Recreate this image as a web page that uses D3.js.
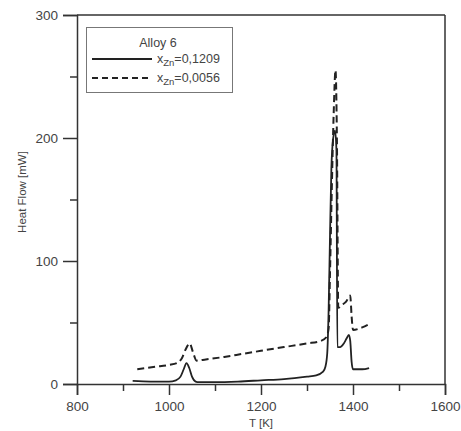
<!DOCTYPE html>
<html>
<head>
    <meta charset="UTF-8">
    <script src="https://d3js.org/d3.v7.min.js"></script>
    <style type="text/css">
        body { margin: 0; background: #fff; }
        text { font-family: "Liberation Sans", Arial, sans-serif; fill: #444; }
    </style>
</head>
<body>
    <script type="text/javascript">
        // Data (T in K, heat flow in mW)
        var tempHigh = [921, 960, 1000, 1015, 1025, 1032, 1038, 1044, 1050, 1058, 1065, 1100, 1150, 1200, 1250, 1300, 1320, 1335, 1340, 1344, 1347, 1350, 1353, 1357, 1361, 1364, 1366, 1372, 1380, 1386, 1391, 1394, 1397, 1400, 1420, 1435];
        var flowHigh = [2.5, 2, 2, 3, 6, 12, 17, 13, 6, 2, 1.5, 1.5, 2, 3, 4, 6, 7, 10, 14, 25, 60, 120, 175, 200, 206, 190, 30, 30, 33, 37, 40, 35, 18, 12, 12, 13];

        var tempLow = [931, 970, 1000, 1017, 1028, 1036, 1045, 1052, 1060, 1080, 1120, 1160, 1200, 1250, 1300, 1330, 1342, 1347, 1350, 1354, 1358, 1362, 1365, 1368, 1375, 1385, 1394, 1397, 1400, 1420, 1437];
        var flowLow = [12, 14, 15.5, 17, 21, 28, 33, 26, 19, 20, 22, 24.5, 27, 30, 33, 35, 38, 45, 90, 160, 220, 255, 200, 62, 64, 67, 72, 55, 44, 46, 49];

        var xTicks = [800, 1000, 1200, 1400, 1600];
        var xMinor = [900, 1100, 1300, 1500];
        var yTicks = [0, 100, 200, 300];
        var yMinor = [50, 150, 250];

        var legendTitle = "Alloy 6";
        var legendValues = ["0,1209", "0,0056"];

        var width = 461, height = 431;
        var svg = d3.select("body").append("svg")
            .attr("width", width)
            .attr("height", height);

        var x = d3.scaleLinear().domain([800, 1600]).range([77, 445]);
        var y = d3.scaleLinear().domain([0, 300]).range([384, 15]);

        var axisColor = "#333";

        // Frame: top and right lines without ticks
        svg.append("line").attr("x1", 77).attr("x2", 445).attr("y1", y(300)).attr("y2", y(300))
            .attr("stroke", axisColor).attr("stroke-width", 1.5);
        svg.append("line").attr("x1", 445).attr("x2", 445).attr("y1", y(300)).attr("y2", y(0))
            .attr("stroke", axisColor).attr("stroke-width", 1.5);

        // Bottom axis
        svg.append("g").attr("transform", "translate(0," + y(0) + ")")
            .call(d3.axisBottom(x).tickValues(xTicks).tickSize(11).tickPadding(6).tickFormat(d3.format("d")));
        svg.append("g").attr("transform", "translate(0," + y(0) + ")")
            .call(d3.axisBottom(x).tickValues(xMinor).tickSize(7).tickFormat(""))
            .select(".domain").remove();

        // Left axis
        svg.append("g").attr("transform", "translate(" + x(800) + ",0)")
            .call(d3.axisLeft(y).tickValues(yTicks).tickSize(14).tickPadding(5).tickFormat(d3.format("d")));
        svg.append("g").attr("transform", "translate(" + x(800) + ",0)")
            .call(d3.axisLeft(y).tickValues(yMinor).tickSize(7).tickFormat(""))
            .select(".domain").remove();

        svg.selectAll(".domain, .tick line")
            .attr("stroke", axisColor).attr("stroke-width", 1.5);
        svg.selectAll(".tick text")
            .style("font-size", "13.5px").attr("fill", "#444");

        // Axis titles
        svg.append("text")
            .attr("x", x(1200)).attr("y", 427)
            .attr("text-anchor", "middle")
            .style("font-size", "11.5px")
            .text("T [K]");

        svg.append("text")
            .attr("transform", "translate(26,192) rotate(-90)")
            .attr("text-anchor", "middle")
            .style("font-size", "11.5px")
            .text("Heat Flow [mW]");

        // Curves
        function makeLine(ts, vs) {
            return d3.line()
                .x(function (d, i) { return x(ts[i]); })
                .y(function (d, i) { return y(vs[i]); })
                .curve(d3.curveMonotoneX)(ts);
        }

        svg.append("path")
            .attr("d", makeLine(tempHigh, flowHigh))
            .attr("fill", "none")
            .attr("stroke", "#222")
            .attr("stroke-width", 1.8);

        svg.append("path")
            .attr("d", makeLine(tempLow, flowLow))
            .attr("fill", "none")
            .attr("stroke", "#222")
            .attr("stroke-width", 2)
            .attr("stroke-dasharray", "7,4");

        // Legend
        var lg = svg.append("g");
        lg.append("rect")
            .attr("x", 86.5).attr("y", 27.5).attr("width", 146).attr("height", 65)
            .attr("fill", "#fff").attr("stroke", "#777").attr("stroke-width", 1);
        lg.append("text")
            .attr("x", 158).attr("y", 47)
            .attr("text-anchor", "middle")
            .style("font-size", "12.5px")
            .text(legendTitle);

        var rows = [{ dash: null, y: 59 }, { dash: "6,4", y: 78 }];
        rows.forEach(function (r, i) {
            lg.append("line")
                .attr("x1", 92).attr("x2", 152).attr("y1", r.y).attr("y2", r.y)
                .attr("stroke", "#222").attr("stroke-width", 1.8)
                .attr("stroke-dasharray", r.dash);
            var t = lg.append("text")
                .attr("x", 157).attr("y", r.y + 4)
                .style("font-size", "12.5px");
            t.append("tspan").text("x");
            t.append("tspan").attr("dy", 3).style("font-size", "9.5px").text("Zn");
            t.append("tspan").attr("dy", -3).text("=" + legendValues[i]);
        });
    </script>
</body>
</html>
